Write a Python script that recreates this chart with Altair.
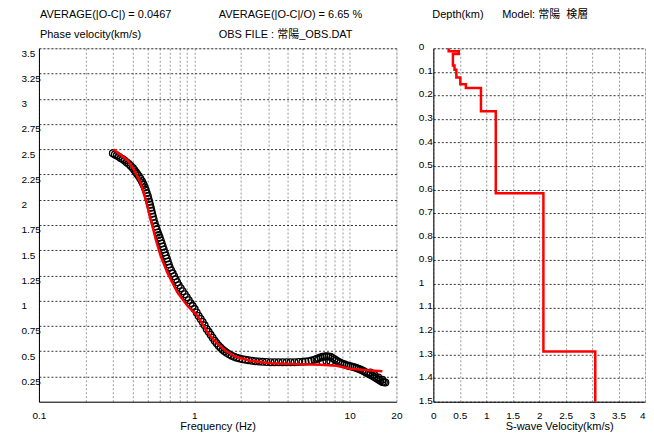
import altair as alt
import pandas as pd

FONT = "Liberation Sans, Noto Sans CJK JP, sans-serif"

# Observed phase velocity (open circles)
obs_freq = [0.299, 0.308, 0.317, 0.327, 0.337, 0.347, 0.357, 0.368, 0.379, 0.390,
            0.402, 0.411, 0.420, 0.429, 0.439, 0.449, 0.459, 0.466, 0.473, 0.480,
            0.487, 0.494, 0.502, 0.507, 0.513, 0.519, 0.525, 0.530, 0.536, 0.542,
            0.548, 0.556, 0.565, 0.573, 0.582, 0.590, 0.599, 0.608, 0.617, 0.626,
            0.636, 0.645, 0.655, 0.665, 0.675, 0.685, 0.695, 0.710, 0.726, 0.742,
            0.759, 0.776, 0.794, 0.818, 0.842, 0.868, 0.894, 0.921, 0.948, 0.977,
            1.006, 1.036, 1.067, 1.099, 1.132, 1.166, 1.201, 1.237, 1.274, 1.313,
            1.352, 1.393, 1.435, 1.478, 1.522, 1.568, 1.615, 1.676, 1.740, 1.805,
            1.873, 1.958, 2.046, 2.139, 2.237, 2.356, 2.481, 2.613, 2.752, 2.919,
            3.097, 3.286, 3.486, 3.699, 3.925, 4.164, 4.418, 4.688, 4.974, 5.199,
            5.435, 5.682, 5.940, 6.118, 6.302, 6.491, 6.686, 6.887, 7.094, 7.307,
            7.526, 7.752, 7.985, 8.225, 8.472, 8.727, 8.989, 9.259, 9.537, 9.824,
            10.12, 10.43, 10.74, 11.06, 11.39, 11.73, 12.09, 12.45, 12.82, 13.21,
            13.61, 14.02, 14.44, 14.87, 15.31, 15.77, 16.25, 16.62, 16.99,
            6.686, 7.094, 7.526, 13.61, 14.44, 15.31, 16.25]
obs_vel = [2.461, 2.449, 2.437, 2.425, 2.412, 2.400, 2.387, 2.370, 2.353, 2.334,
           2.314, 2.294, 2.274, 2.255, 2.235, 2.210, 2.186, 2.167, 2.147, 2.122,
           2.097, 2.068, 2.038, 2.008, 1.979, 1.950, 1.920, 1.890, 1.861, 1.832,
           1.802, 1.768, 1.734, 1.705, 1.675, 1.650, 1.625, 1.596, 1.566, 1.537,
           1.507, 1.478, 1.448, 1.419, 1.389, 1.360, 1.330, 1.300, 1.271, 1.242,
           1.212, 1.183, 1.153, 1.124, 1.094, 1.064, 1.035, 1.006, 0.976, 0.947,
           0.917, 0.883, 0.849, 0.820, 0.790, 0.756, 0.721, 0.692, 0.662, 0.633,
           0.603, 0.579, 0.554, 0.534, 0.514, 0.500, 0.485, 0.470, 0.455, 0.446,
           0.436, 0.428, 0.421, 0.416, 0.411, 0.406, 0.401, 0.398, 0.396, 0.393,
           0.391, 0.391, 0.391, 0.391, 0.391, 0.391, 0.391, 0.393, 0.396, 0.398,
           0.401, 0.408, 0.416, 0.424, 0.431, 0.438, 0.445, 0.448, 0.450, 0.448,
           0.445, 0.433, 0.421, 0.408, 0.396, 0.386, 0.377, 0.370, 0.362, 0.357,
           0.352, 0.347, 0.342, 0.335, 0.327, 0.318, 0.308, 0.298, 0.288, 0.278,
           0.268, 0.256, 0.244, 0.232, 0.219, 0.207, 0.195, 0.192, 0.190,
           0.395, 0.400, 0.398, 0.290, 0.265, 0.240, 0.218]

# Calculated dispersion curve (red line)
calc_freq = [0.302, 0.372, 0.410, 0.452, 0.487, 0.525, 0.565, 0.608, 0.671, 0.778,
             0.903, 1.047, 1.214, 1.373, 1.591, 1.845, 2.304, 3.097, 4.83, 6.49,
             8.23, 10.12, 13.0, 16.25]
calc_vel = [2.497, 2.392, 2.294, 2.163, 1.999, 1.802, 1.606, 1.442, 1.278, 1.082,
            0.950, 0.852, 0.688, 0.593, 0.504, 0.445, 0.406, 0.382, 0.372, 0.367,
            0.357, 0.327, 0.311, 0.301]

# S-wave velocity model (layer top depth in km, Vs in km/s)
layer_top = [0.0, 0.013, 0.024, 0.073, 0.091, 0.124, 0.153, 0.169, 0.267, 0.615, 1.287]
layer_vs = [0.29, 0.48, 0.37, 0.40, 0.435, 0.51, 0.615, 0.90, 1.18, 2.08, 3.06]
bottom_depth = 1.5

# Axis ticks
freq_values = [0.1, 0.2, 0.3, 0.4, 0.5, 0.6, 0.7, 0.8, 0.9, 1, 2, 3, 4, 5, 6, 7, 8, 9, 10, 20]
freq_labels = [0.1, 1, 10, 20]
vel_ticks = [0.25, 0.5, 0.75, 1, 1.25, 1.5, 1.75, 2, 2.25, 2.5, 2.75, 3, 3.25, 3.5]
vs_ticks = [0, 0.5, 1, 1.5, 2, 2.5, 3, 3.5, 4]
depth_ticks = [0, 0.1, 0.2, 0.3, 0.4, 0.5, 0.6, 0.7, 0.8, 0.9, 1, 1.1, 1.2, 1.3, 1.4, 1.5]

obs_df = pd.DataFrame({"freq": obs_freq, "vel": obs_vel})
calc_df = pd.DataFrame({"freq": calc_freq, "vel": calc_vel})

rows = []
for i, (top, vs) in enumerate(zip(layer_top, layer_vs)):
    bot = layer_top[i + 1] if i + 1 < len(layer_top) else bottom_depth
    rows.append({"vs": vs, "depth": top, "k": 2 * i})
    rows.append({"vs": vs, "depth": bot, "k": 2 * i + 1})
prof_df = pd.DataFrame(rows)

W1, W2, H = 358, 212, 354
HDR1, HDR2 = -30.3, -10
TITLE_Y = 27.5
LAB_PAD = 9

label_expr = ("indexof([" + ",".join(str(v) for v in freq_labels) +
              "], datum.value) >= 0 ? '' + datum.value : ''")

x_freq = alt.X("freq:Q",
               scale=alt.Scale(type="log", domain=[0.1, 20]),
               axis=alt.Axis(values=freq_values, labelExpr=label_expr, grid=True,
                             gridColor="#999", gridDash=[2, 2], ticks=False, tickSize=0,
                             domainColor="#000", labelPadding=LAB_PAD, labelFontSize=10,
                             labelFlush=False, labelOverlap=False,
                             title="Frequency (Hz)", titleFontSize=11, titleFontWeight="normal",
                             titleY=TITLE_Y, titleBaseline="alphabetic"))
y_vel = alt.Y("vel:Q",
              scale=alt.Scale(domain=[0, 3.5], nice=False, zero=False),
              axis=alt.Axis(values=vel_ticks, labelExpr="'' + datum.value", grid=True,
                            gridColor="#333", gridDash=[2, 2], ticks=False, tickSize=0,
                            domainColor="#000", labelAlign="left", labelBaseline="top",
                            labelPadding=18, labelFontSize=10, labelFlush=False,
                            labelOverlap=False, title=None))


def header(txt, x, y):
    return alt.Chart(alt.Data(values=[{"a": 1}])).mark_text(
        align="left", baseline="alphabetic", fontSize=11, font=FONT, color="#000"
    ).encode(x=alt.value(x), y=alt.value(y), text=alt.value(txt))


obs = alt.Chart(obs_df).mark_point(shape="circle", filled=False, color="#000",
                                   size=45, strokeWidth=1.3, opacity=1).encode(x=x_freq, y=y_vel)
calc = alt.Chart(calc_df).mark_line(color="#ff0000", strokeWidth=2.5).encode(x=x_freq, y=y_vel)

left = alt.layer(
    obs, calc,
    header("AVERAGE(|O-C|) = 0.0467", 1, HDR1),
    header("AVERAGE(|O-C|/O) = 6.65 %", 180, HDR1),
    header("Phase velocity(km/s)", 1, HDR2),
    header("OBS FILE : 常陽_OBS.DAT", 180, HDR2),
).properties(width=W1, height=H)

x_vs = alt.X("vs:Q", scale=alt.Scale(domain=[0, 4], nice=False, zero=False),
             axis=alt.Axis(values=vs_ticks, labelExpr="'' + datum.value", grid=True,
                           gridColor="#999", gridDash=[2, 2], ticks=False, tickSize=0,
                           domainColor="#000", labelPadding=LAB_PAD, labelFontSize=10,
                           labelAlign={"condition": {"test": "datum.value >= 4", "value": "right"},
                                       "value": "center"},
                           labelFlush=False, labelOverlap=False, title="S-wave Velocity(km/s)",
                           titleFontSize=11, titleFontWeight="normal", titleY=TITLE_Y,
                           titleX=126, titleBaseline="alphabetic"))
y_depth = alt.Y("depth:Q", scale=alt.Scale(domain=[0, 1.5], reverse=True, nice=False, zero=False),
                axis=alt.Axis(values=depth_ticks, labelExpr="'' + datum.value", grid=True,
                              gridColor="#333", gridDash=[2, 2], ticks=False, tickSize=0,
                              domainColor="#000", labelAlign="left", labelBaseline="middle",
                              labelOffset=-1.5, labelPadding=15, labelFontSize=10,
                              labelFlush=False, labelOverlap=False, title=None))

prof = alt.Chart(prof_df).mark_line(color="#ff0000", strokeWidth=2.5).encode(
    x=x_vs, y=y_depth, order="k:Q")

right = alt.layer(
    prof,
    header("Depth(km)", -1, HDR1),
    header("Model: 常陽\u00a0\u00a0検層", 69, HDR1),
).properties(width=W2, height=H)

chart = alt.hconcat(left, right, spacing=37, bounds="flush").properties(
    padding={"left": 12, "top": 0, "right": 0, "bottom": 0}
).configure_view(stroke="#888", strokeWidth=1).configure(font=FONT).configure_axis(
    labelColor="#000", titleColor="#000", labelFont=FONT, titleFont=FONT)

chart.save("out.html", embed_options={"renderer": "svg", "actions": False})
